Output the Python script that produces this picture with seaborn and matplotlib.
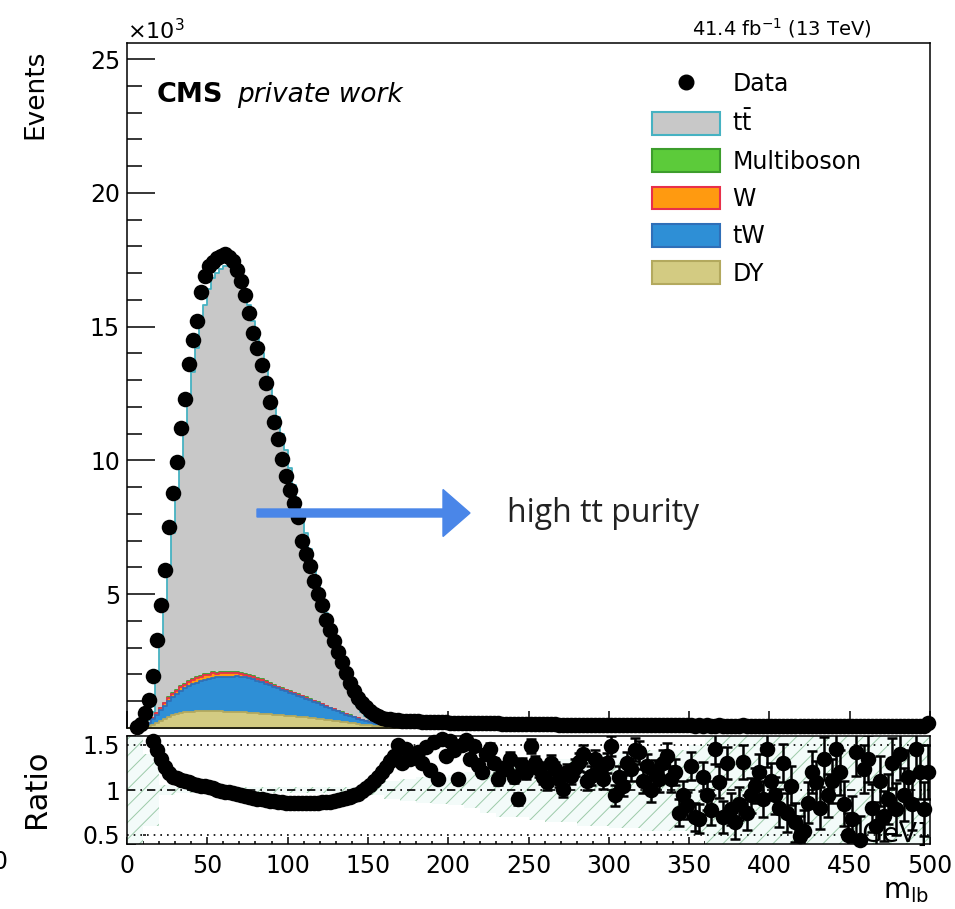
import numpy as np
import pandas as pd
import matplotlib
matplotlib.use("Agg")
import matplotlib.pyplot as plt
import seaborn as sns
from matplotlib.patches import Patch, FancyArrow
from matplotlib.lines import Line2D
from matplotlib.transforms import IdentityTransform
from matplotlib.ticker import MultipleLocator, FixedLocator, FuncFormatter

# ---------------- data (values in units of 10^3 events) ----------------
bin_width = 2.5
x_min, x_max = 0.0, 500.0

data_k = [
    0.0, 0.0, 0.02, 0.15, 0.55, 1.05, 1.95, 3.3, 4.6, 5.9,
    7.5, 8.8, 9.95, 11.2, 12.3, 13.6, 14.5, 15.2, 16.3, 16.9,
    17.25, 17.4, 17.55, 17.65, 17.7, 17.6, 17.45, 17.1, 16.7, 16.2,
    15.5, 14.75, 14.2, 13.55, 12.9, 12.2, 11.45, 10.8, 10.05, 9.4,
    8.9, 8.4, 7.9, 7.0, 6.5, 6.05, 5.5, 5.0, 4.6, 4.05,
    3.65, 3.25, 2.85, 2.45, 2.05, 1.7, 1.38, 1.13, 0.92, 0.77,
    0.63, 0.52, 0.45, 0.39, 0.35, 0.32, 0.3, 0.29, 0.28, 0.27,
    0.26, 0.25, 0.25, 0.24, 0.23, 0.23, 0.22, 0.22, 0.21, 0.21,
    0.2, 0.2, 0.2, 0.19, 0.19, 0.19, 0.18, 0.18, 0.18, 0.17,
    0.17, 0.17, 0.17, 0.16, 0.16, 0.16, 0.16, 0.15, 0.15, 0.15,
    0.15, 0.15, 0.14, 0.14, 0.14, 0.14, 0.14, 0.13, 0.13, 0.13,
    0.13, 0.13, 0.13, 0.12, 0.12, 0.12, 0.12, 0.12, 0.12, 0.12,
    0.11, 0.11, 0.12, 0.11, 0.11, 0.11, 0.11, 0.11, 0.1, 0.11,
    0.1, 0.1, 0.1, 0.1, 0.11, 0.1, 0.1, 0.1, 0.1, 0.1,
    0.1, 0.09, 0.1, 0.09, 0.1, 0.09, 0.09, 0.1, 0.09, 0.09,
    0.09, 0.09, 0.09, 0.1, 0.09, 0.09, 0.09, 0.08, 0.09, 0.09,
    0.09, 0.08, 0.09, 0.08, 0.09, 0.08, 0.08, 0.09, 0.08, 0.08,
    0.08, 0.08, 0.09, 0.08, 0.08, 0.08, 0.07, 0.08, 0.08, 0.08,
    0.08, 0.07, 0.08, 0.08, 0.07, 0.08, 0.07, 0.08, 0.07, 0.07,
    0.08, 0.07, 0.07, 0.08, 0.07, 0.07, 0.07, 0.08, 0.07, 0.2,
]

# simulated processes, first 80 bins (0-200 GeV); stacked bottom -> top
dy = [
    0, 0, 0, 0.02, 0.05, 0.08, 0.13, 0.2, 0.27, 0.34,
    0.42, 0.47, 0.52, 0.55, 0.58, 0.6, 0.61, 0.62, 0.62, 0.63,
    0.62, 0.63, 0.62, 0.62, 0.61, 0.61, 0.6, 0.6, 0.59, 0.58,
    0.57, 0.56, 0.55, 0.54, 0.53, 0.52, 0.5, 0.49, 0.48, 0.46,
    0.45, 0.44, 0.42, 0.41, 0.4, 0.38, 0.36, 0.35, 0.33, 0.31,
    0.29, 0.27, 0.25, 0.23, 0.21, 0.19, 0.17, 0.15, 0.13, 0.11,
    0.1, 0.08, 0.07, 0.06, 0.05, 0.045, 0.04, 0.035, 0.03, 0.03,
    0.025, 0.025, 0.02, 0.02, 0.02, 0.015, 0.015, 0.015, 0.01, 0.01,
]
tw = [
    0, 0, 0, 0.02, 0.05, 0.1, 0.2, 0.3, 0.4, 0.5,
    0.6, 0.68, 0.76, 0.84, 0.9, 0.96, 1.02, 1.08, 1.13, 1.18,
    1.22, 1.25, 1.27, 1.29, 1.3, 1.31, 1.32, 1.33, 1.32, 1.31,
    1.29, 1.26, 1.22, 1.18, 1.13, 1.08, 1.03, 0.99, 0.95, 0.91,
    0.87, 0.83, 0.79, 0.74, 0.7, 0.66, 0.62, 0.58, 0.53, 0.49,
    0.45, 0.41, 0.37, 0.33, 0.29, 0.26, 0.23, 0.2, 0.17, 0.14,
    0.11, 0.09, 0.07, 0.05, 0.04, 0.03, 0.025, 0.02, 0.015, 0.015,
    0.01, 0.01, 0.01, 0.01, 0.008, 0.008, 0.006, 0.006, 0.005, 0.005,
]
wjets = [
    0, 0, 0, 0.005, 0.01, 0.02, 0.03, 0.05, 0.07, 0.08,
    0.1, 0.11, 0.12, 0.13, 0.14, 0.15, 0.16, 0.15, 0.17, 0.16,
    0.15, 0.17, 0.14, 0.16, 0.15, 0.13, 0.14, 0.12, 0.11, 0.1,
    0.09, 0.08, 0.07, 0.07, 0.06, 0.05, 0.05, 0.04, 0.04, 0.04,
    0.03, 0.03, 0.03, 0.03, 0.02, 0.02, 0.02, 0.02, 0.02, 0.015,
    0.015, 0.015, 0.01, 0.01, 0.01, 0.01, 0.01, 0.008, 0.008, 0.006,
    0.005, 0.005, 0.005, 0.004, 0.004, 0.004, 0.003, 0.003, 0.003, 0.003,
    0.002, 0.002, 0.002, 0.002, 0.002, 0.002, 0.002, 0.002, 0.002, 0.002,
]
multiboson = [
    0, 0, 0, 0, 0, 0, 0.005, 0.01, 0.015, 0.02,
    0.025, 0.03, 0.03, 0.035, 0.035, 0.04, 0.04, 0.04, 0.04, 0.04,
    0.04, 0.04, 0.04, 0.04, 0.04, 0.04, 0.04, 0.04, 0.035, 0.035,
    0.035, 0.035, 0.03, 0.03, 0.03, 0.03, 0.025, 0.025, 0.025, 0.025,
    0.02, 0.02, 0.02, 0.02, 0.02, 0.015, 0.015, 0.015, 0.015, 0.01,
    0.01, 0.01, 0.01, 0.01, 0.01, 0.008, 0.008, 0.006, 0.006, 0.005,
    0.005, 0.004, 0.004, 0.004, 0.003, 0.003, 0.003, 0.003, 0.002, 0.002,
    0.002, 0.002, 0.002, 0.002, 0.002, 0.002, 0.002, 0.002, 0.002, 0.002,
]
ttbar = [
    0, 0, 0.01, 0.01, 0.04, 0.1, 0.24, 1.44, 2.55, 3.66,
    4.86, 6.01, 7.17, 8.35, 9.45, 10.55, 11.47, 12.31, 13.24, 13.79,
    14.37, 14.71, 14.93, 15.04, 15.15, 15.16, 15.05, 14.86, 14.65, 14.28,
    13.82, 13.27, 12.73, 12.18, 11.65, 11.12, 10.6, 10.06, 9.5, 8.97,
    8.33, 7.78, 7.24, 6.7, 6.16, 5.63, 5.09, 4.54, 4.0, 3.49,
    2.99, 2.5, 2.06, 1.67, 1.33, 0.98, 0.68, 0.44, 0.29, 0.19,
    0.11, 0.07, 0.05, 0.03, 0.02, 0.02, 0.015, 0.015, 0.01, 0.01,
    0.01, 0.01, 0.008, 0.008, 0.006, 0.006, 0.005, 0.005, 0.005, 0.004,
]

nan = float("nan")
ratio = [
    nan, nan, nan, nan, nan, nan, 1.55, 1.45, 1.34, 1.26,
    1.19, 1.15, 1.13, 1.11, 1.1, 1.085, 1.07, 1.06, 1.05, 1.04,
    1.03, 1.02, 1.0, 0.99, 0.98, 0.975, 0.965, 0.955, 0.945, 0.935,
    0.925, 0.915, 0.905, 0.9, 0.89, 0.88, 0.875, 0.87, 0.865, 0.86,
    0.858, 0.856, 0.855, 0.854, 0.854, 0.855, 0.857, 0.86, 0.862, 0.866,
    0.872, 0.88, 0.89, 0.9, 0.91, 0.925, 0.94, 0.96, 0.985, 1.02,
    1.06, 1.1, 1.15, 1.2, 1.26, 1.32, 1.38, 1.5, 1.3, 1.46,
    1.35, 1.4, 1.42, 1.3, 1.48, 1.22, 1.53, 1.12, 1.57, 1.38,
    1.55, 1.45, 1.12, 1.5, 1.56, 1.35, 1.49, 1.28, 1.2, 1.4,
    1.46, 1.3, 1.12, 1.25, 1.23, 1.35, 1.15, 0.9, 1.28, 1.2,
    1.49, 1.3, 1.23, 1.15, 1.09, 1.3, 1.23, 1.12, 1.01, 1.2,
    1.16, 1.25, 1.31, 1.4, 1.1, 1.16, 1.34, 1.22, 1.12, 1.3,
    1.49, 0.94, 1.15, 1.05, 1.3, 1.23, 1.45, 1.42, 1.1, 1.27,
    1.0, 1.2, 1.12, 1.3, 1.38, 1.12, 1.2, 0.75, 0.95, 0.83,
    1.27, 0.7, 0.68, 1.15, 0.94, 0.78, 1.46, 1.09, 0.7, 1.3,
    0.79, 0.64, 0.85, 1.31, 0.75, 0.94, 1.05, 1.2, 0.9, 1.46,
    1.1, 0.94, 0.8, 1.3, 0.75, 1.05, 0.64, 0.49, 0.55, 0.86,
    1.2, 1.09, 0.8, 1.35, 0.94, 1.1, 1.46, 1.2, 0.85, 0.5,
    0.68, 1.42, 0.45, 1.23, 1.35, 0.8, 0.6, 1.1, 0.71, 0.9,
    1.3, 0.79, 1.4, 0.95, 1.15, 0.85, 1.46, 1.2, 0.79, 1.2,
]
ratio_err = [
    0, 0, 0, 0, 0, 0, 0.02, 0.015, 0.012, 0.01,
    0.01, 0.01, 0.01, 0.01, 0.01, 0.01, 0.01, 0.01, 0.01, 0.01,
    0.01, 0.01, 0.01, 0.01, 0.01, 0.01, 0.01, 0.01, 0.01, 0.01,
    0.01, 0.01, 0.01, 0.01, 0.01, 0.01, 0.01, 0.01, 0.01, 0.01,
    0.01, 0.01, 0.01, 0.01, 0.01, 0.01, 0.01, 0.01, 0.01, 0.01,
    0.01, 0.01, 0.01, 0.01, 0.01, 0.01, 0.01, 0.012, 0.012, 0.014,
    0.015, 0.015, 0.02, 0.02, 0.02, 0.025, 0.025, 0.025, 0.03, 0.03,
    0.03, 0.035, 0.035, 0.035, 0.04, 0.04, 0.04, 0.04, 0.045, 0.045,
    0.045, 0.05, 0.05, 0.05, 0.05, 0.055, 0.055, 0.055, 0.06, 0.06,
    0.06, 0.06, 0.065, 0.065, 0.065, 0.07, 0.07, 0.07, 0.075, 0.075,
    0.075, 0.08, 0.08, 0.08, 0.085, 0.085, 0.085, 0.09, 0.09, 0.09,
    0.095, 0.095, 0.1, 0.1, 0.1, 0.105, 0.105, 0.11, 0.11, 0.11,
    0.115, 0.115, 0.12, 0.12, 0.12, 0.125, 0.125, 0.13, 0.13, 0.13,
    0.135, 0.135, 0.14, 0.14, 0.14, 0.145, 0.145, 0.15, 0.15, 0.15,
    0.155, 0.16, 0.16, 0.165, 0.165, 0.17, 0.17, 0.175, 0.175, 0.18,
    0.18, 0.185, 0.185, 0.19, 0.19, 0.195, 0.195, 0.2, 0.2, 0.2,
    0.205, 0.21, 0.21, 0.215, 0.215, 0.22, 0.22, 0.225, 0.225, 0.23,
    0.23, 0.235, 0.235, 0.24, 0.24, 0.245, 0.245, 0.25, 0.25, 0.25,
    0.255, 0.26, 0.26, 0.265, 0.265, 0.27, 0.27, 0.275, 0.275, 0.28,
    0.28, 0.285, 0.285, 0.29, 0.29, 0.295, 0.295, 0.3, 0.3, 0.3,
]
# systematic band half-width around 1, in 10 GeV steps
band_step = 10.0
band_halfwidth = [
    0.6, 0.4, 0.06, 0.03, 0.03, 0.03, 0.03, 0.03, 0.03, 0.03,
    0.03, 0.03, 0.03, 0.03, 0.03, 0.06, 0.1, 0.12, 0.14, 0.15,
    0.17, 0.2, 0.25, 0.3, 0.3, 0.33, 0.35, 0.35, 0.4, 0.4,
    0.42, 0.42, 0.45, 0.45, 0.45, 0.5, 0.6, 0.6, 0.6, 0.6,
    0.6, 0.6, 0.6, 0.6, 0.6, 0.6, 0.6, 0.6, 0.6, 0.6,
]

processes = ["DY", "tW", "W", "Multiboson", r"$\mathrm{t\bar{t}}$"]
face_colors = ["#d3cb82", "#2e8fd6", "#ff9a10", "#5ccb3a", "#c8c8c8"]
edge_colors = ["#b3a95e", "#2f6fb8", "#e8304a", "#3d9d2c", "#46b2c2"]

# ---------------- figure ----------------
W, H = 955, 909
sns.set_theme(style="white")
plt.rcParams["font.family"] = ["DejaVu Sans"]
plt.rcParams["mathtext.fontset"] = "dejavusans"
plt.rcParams["hatch.linewidth"] = 0.7
plt.rcParams["axes.linewidth"] = 1.1
for key in ["text.color", "axes.labelcolor", "xtick.color", "ytick.color", "axes.edgecolor"]:
    plt.rcParams[key] = "black"

fig = plt.figure(figsize=(W / 100, H / 100), dpi=100)
fig.patch.set_facecolor("white")

def fx(px):
    return px / W

def fy(py):
    return 1 - py / H

ax = fig.add_axes([fx(127), fy(728), fx(930) - fx(127), fy(43) - fy(728)])
rax = fig.add_axes([fx(127), fy(844), fx(930) - fx(127), fy(736) - fy(844)])

edges = np.arange(x_min, x_max + bin_width / 2, bin_width)
centers = edges[:-1] + bin_width / 2
n_mc = len(ttbar)

# stacked simulation: draw cumulative levels from top to bottom
components = [np.array(dy), np.array(tw), np.array(wjets), np.array(multiboson), np.array(ttbar)]
levels = np.cumsum(np.vstack(components), axis=0)
for i in range(len(components) - 1, -1, -1):
    df = pd.DataFrame({"m": centers[:n_mc], "w": levels[i]})
    sns.histplot(data=df, x="m", weights="w", binwidth=bin_width,
                 binrange=(x_min, n_mc * bin_width),
                 element="step", fill=True, color=face_colors[i],
                 edgecolor=edge_colors[i], linewidth=1.3, alpha=1.0, ax=ax, zorder=1)

# data points
data_arr = np.array(data_k)
mask = data_arr > 0
sns.scatterplot(x=centers[mask], y=data_arr[mask], color="black", s=125,
                linewidth=0, ax=ax, zorder=4, clip_on=False, legend=False)

ax.set_xlim(x_min, x_max)
ax.set_ylim(0, 25.6)
ax.set_xlabel("")
ax.set_ylabel("")
ax.yaxis.set_major_locator(FixedLocator([5, 10, 15, 20, 25]))
ax.yaxis.set_minor_locator(MultipleLocator(1))
ax.xaxis.set_major_locator(MultipleLocator(50))
ax.xaxis.set_minor_locator(MultipleLocator(10))
ax.tick_params(axis="y", which="major", direction="in", length=20, width=1.1,
               labelsize=17, pad=5, left=True, right=False)
ax.tick_params(axis="y", which="minor", direction="in", length=10.5, width=1.1, left=True, right=False)
ax.tick_params(axis="x", which="major", direction="in", length=12, width=1.1,
               labelbottom=False, bottom=True, top=False)
ax.tick_params(axis="x", which="minor", direction="in", length=5.5, width=1.1, bottom=True, top=False)

# ratio panel
band_edges = np.arange(x_min, x_max + band_step / 2, band_step)
hw = np.array(band_halfwidth)
rax.stairs(1 + hw, band_edges, baseline=1 - hw, fill=True, facecolor="#f3fbf9",
           edgecolor="#9ccaa9", hatch="//", linewidth=0, zorder=1)
for yv, ls in [(0.5, (0, (1, 3))), (1.5, (0, (1, 3))), (1.0, (0, (5, 3, 1, 3)))]:
    rax.axhline(yv, color="black", lw=1.2, ls=ls, zorder=2)

r_arr = np.array(ratio)
e_arr = np.array(ratio_err)
rmask = np.isfinite(r_arr)
rax.errorbar(centers[rmask], r_arr[rmask], yerr=e_arr[rmask], fmt="none",
             ecolor="black", elinewidth=1.8, capsize=3.5, capthick=1.8, zorder=3)
sns.scatterplot(x=centers[rmask], y=r_arr[rmask], color="black", s=125,
                linewidth=0, ax=rax, zorder=4, clip_on=False, legend=False)

rax.set_xlim(x_min, x_max)
rax.set_ylim(0.4, 1.6)
rax.set_xlabel("")
rax.set_ylabel("")
rax.yaxis.set_major_locator(FixedLocator([0.5, 1.0, 1.5]))
rax.yaxis.set_major_formatter(FuncFormatter(lambda v, p: f"{v:g}"))
rax.yaxis.set_minor_locator(MultipleLocator(0.1))
rax.xaxis.set_major_locator(MultipleLocator(50))
rax.xaxis.set_minor_locator(MultipleLocator(10))
rax.tick_params(axis="y", which="major", direction="in", length=14, width=1.1,
                labelsize=17, pad=5, left=True, right=False)
rax.tick_params(axis="y", which="minor", direction="in", length=6.5, width=1.1, left=True, right=False)
rax.tick_params(axis="x", which="major", direction="in", length=5, width=1.1,
                labelsize=17, pad=7, bottom=True, top=False)
rax.tick_params(axis="x", which="minor", direction="in", length=2.5, width=1.1, bottom=True, top=False)

# legend
handles = [Line2D([], [], marker="o", color="black", ls="none", ms=10.5)]
labels = ["Data"]
for i in range(len(components) - 1, -1, -1):
    handles.append(Patch(facecolor=face_colors[i], edgecolor=edge_colors[i], linewidth=1.5))
    labels.append(processes[i])
ax.legend(handles, labels, loc="upper left", bbox_to_anchor=(fx(652), fy(72)),
          bbox_transform=fig.transFigure, frameon=False, fontsize=17,
          handlelength=2.9, handleheight=1.1, handletextpad=0.5,
          labelspacing=0.55, borderpad=0, borderaxespad=0)

# texts
fig.text(fx(127), fy(39), r"$\times$10$^{3}$", fontsize=16, va="baseline", ha="left")
fig.text(fx(872), fy(35), r"41.4 fb$^{-1}$ (13 TeV)", fontsize=14, va="baseline", ha="right")
fig.text(fx(157), fy(102), "CMS", fontsize=19.5, fontweight="bold", va="baseline", ha="left")
fig.text(fx(237), fy(102), "private work", fontsize=19, fontstyle="italic", va="baseline", ha="left")
fig.text(fx(35), fy(50), "Events", fontsize=19, rotation=90, ha="center", va="top")
fig.text(fx(36), fy(789), "Ratio", fontsize=22, rotation=90, ha="center", va="center")
fig.text(fx(883), fy(898), r"m$_{\mathrm{lb}}$", fontsize=20, ha="left", va="baseline")
fig.text(fx(928), fy(842), "[GeV]", fontsize=19, ha="right", va="baseline", zorder=10,
         family=["DejaVu Sans Condensed", "DejaVu Sans"])
fig.text(fx(-7), fy(862), "0", fontsize=17, ha="left", va="center")

# annotation arrow and note
arrow = FancyArrow(257, H - 513, 213, 0, width=8, head_width=47, head_length=27,
                   length_includes_head=True, color="#4a86e8", transform=IdentityTransform())
fig.add_artist(arrow)
fig.text(fx(507), fy(513), "high tt purity", fontsize=23, ha="left", va="center",
         color="#222222", family=["Open Sans", "DejaVu Sans"])

fig.savefig("out.png", dpi=100)
